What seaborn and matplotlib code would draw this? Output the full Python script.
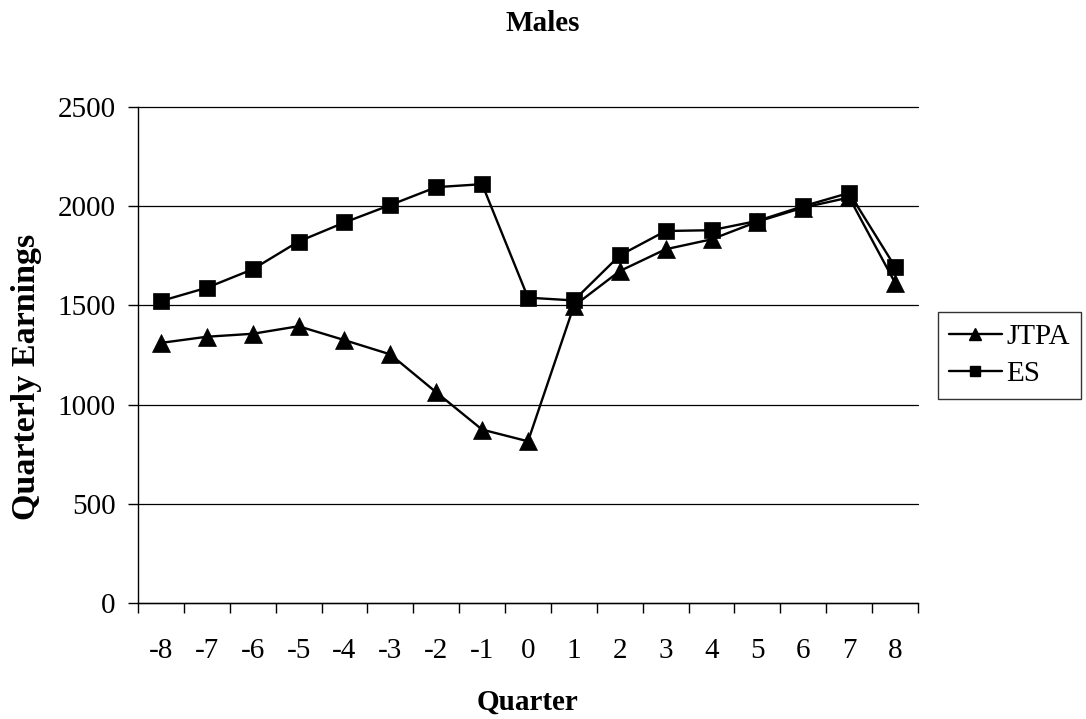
import matplotlib
matplotlib.use("Agg")
import numpy as np
import pandas as pd
import seaborn as sns
import matplotlib.pyplot as plt
from matplotlib.lines import Line2D
from matplotlib.ticker import FixedLocator, FixedFormatter

# ---- data ----
quarters = list(range(-8, 9))
jtpa = [1311, 1342, 1357, 1395, 1325, 1253, 1062, 874, 815,
        1497, 1673, 1783, 1833, 1922, 1993, 2044, 1614]
es = [1522, 1589, 1682, 1822, 1918, 2006, 2096, 2111, 1539,
      1525, 1752, 1875, 1879, 1926, 2000, 2067, 1695]
series_names = ["JTPA", "ES"]
y_ticks = [0, 500, 1000, 1500, 2000, 2500]
x_tick_labels = [str(q) for q in quarters]
title = "Males"
x_label = "Quarter"
y_label = "Quarterly Earnings"

sns.set_theme(style="white")
plt.rcParams["font.family"] = ["Liberation Serif", "DejaVu Serif"]

W, H = 1086, 719
fig = plt.figure(figsize=(W / 100, H / 100), dpi=100)
fig.patch.set_facecolor("white")
ax_left, ax_right, ax_top, ax_bottom = 138, 918, 107, 603
ax = fig.add_axes([ax_left / W, 1 - ax_bottom / H,
                   (ax_right - ax_left) / W, (ax_bottom - ax_top) / H])

df = pd.DataFrame({
    "Quarter": quarters * 2,
    "Earnings": jtpa + es,
    "Series": [series_names[0]] * len(quarters) + [series_names[1]] * len(quarters),
})

sns.lineplot(data=df, x="Quarter", y="Earnings", hue="Series", style="Series",
             hue_order=series_names, style_order=series_names,
             markers={"JTPA": "^", "ES": "s"}, dashes=False,
             palette={"JTPA": "black", "ES": "black"},
             linewidth=1.7, markersize=11, markeredgecolor="black",
             markeredgewidth=0.5, legend=False, ax=ax)
# slightly larger triangles, as in the reference
for line in ax.get_lines():
    if line.get_marker() == "^":
        line.set_markersize(12.5)

# axes limits and ticks
ax.set_xlim(quarters[0] - 0.5, quarters[-1] + 0.5)
ax.set_ylim(y_ticks[0], y_ticks[-1])
ax.set_yticks(y_ticks)
ax.set_yticklabels([str(v) for v in y_ticks])

boundaries = [q - 0.5 for q in quarters] + [quarters[-1] + 0.5]
ax.xaxis.set_major_locator(FixedLocator(boundaries))
ax.xaxis.set_major_formatter(FixedFormatter([""] * len(boundaries)))
ax.xaxis.set_minor_locator(FixedLocator(quarters))
ax.xaxis.set_minor_formatter(FixedFormatter(x_tick_labels))

ax.tick_params(axis="x", which="major", bottom=True, direction="out",
               length=7, width=1, color="black")
ax.tick_params(axis="x", which="minor", bottom=True, length=0, pad=25,
               labelsize=21, labelcolor="black")
ax.tick_params(axis="y", which="major", left=True, direction="out",
               length=7, width=1, color="black", pad=9, labelsize=21,
               labelcolor="black")

# grid lines
ax.yaxis.grid(True, color="black", linewidth=0.9)
ax.set_axisbelow(True)
for gl in ax.get_ygridlines():
    gl.set_clip_on(False)

for side in ["top", "right"]:
    ax.spines[side].set_visible(False)
for side in ["left", "bottom"]:
    ax.spines[side].set_color("black")
    ax.spines[side].set_linewidth(1)
ax.set_facecolor("white")

# labels
ax.set_xlabel(x_label, fontsize=21, fontweight="bold", color="black")
ax.xaxis.set_label_coords(0.5, (ax_bottom - 710) / (ax_bottom - ax_top))
ax.xaxis.label.set_verticalalignment("baseline")
ax.set_ylabel(y_label, fontsize=24.5, fontweight="bold", color="black")
ax.yaxis.set_label_coords((27 - ax_left) / (ax_right - ax_left),
                          (ax_bottom - 377) / (ax_bottom - ax_top))
ax.yaxis.label.set_verticalalignment("center")

fig.text(0.5, 1 - 31 / H, title, ha="center", va="baseline",
         fontsize=21, fontweight="bold", color="black")

# legend
handles = [
    Line2D([], [], color="black", linewidth=1.7, marker="^", markersize=9),
    Line2D([], [], color="black", linewidth=1.7, marker="s", markersize=7.5),
]
leg = ax.legend(handles, series_names, loc="center left",
                bbox_to_anchor=(938 / W, 1 - 355.5 / H),
                bbox_transform=fig.transFigure, borderaxespad=0,
                fontsize=21, frameon=True, fancybox=False, shadow=False,
                handlelength=1.8, handletextpad=0.15, labelspacing=0.38,
                borderpad=0.38)
leg.get_frame().set_edgecolor("black")
leg.get_frame().set_linewidth(1)
leg.get_frame().set_facecolor("white")
for t in leg.get_texts():
    t.set_color("black")

fig.savefig("out.png", dpi=100, facecolor="white")
